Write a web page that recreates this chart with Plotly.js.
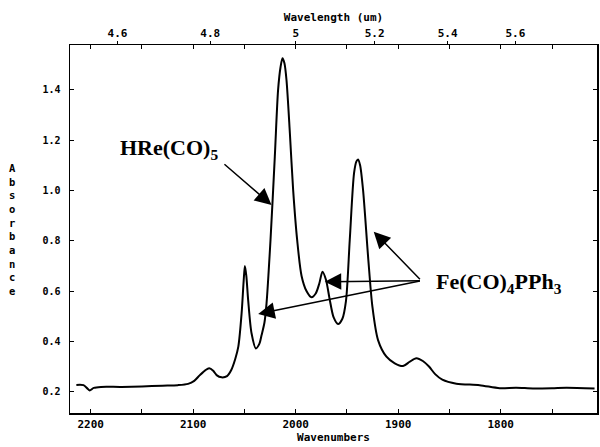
<!DOCTYPE html>
<html>
<head>
<meta charset="utf-8">
<script src="https://cdn.plot.ly/plotly-3.0.1.min.js"></script>
<style>html,body{margin:0;padding:0;background:#fff;}#chart{width:600px;height:447px;}</style>
</head>
<body>
<div id="chart"></div>
<script>
// Spectrum
const wavenumber = [2214, 2207, 2203, 2201, 2197, 2190, 2170, 2150, 2130, 2115, 2105, 2099, 2093.5, 2088, 2084.4, 2080.5, 2077.2, 2072.3, 2067, 2063, 2059, 2056, 2052.8, 2050.8, 2049.6, 2048.2, 2046.4, 2043.1, 2038.9, 2035.5, 2033.3, 2030.5, 2028.5, 2024.6, 2020.4, 2017.2, 2014.8, 2012.9, 2011, 2009, 2005.7, 2002.5, 1998.6, 1994.3, 1989.5, 1984.6, 1980.5, 1977, 1973.9, 1970.5, 1967, 1963, 1958.7, 1954.5, 1951, 1947.3, 1943.1, 1940.8, 1939.2, 1937.2, 1934.3, 1929.4, 1925.2, 1919.7, 1911.5, 1903.4, 1895.3, 1888.8, 1882.3, 1876, 1870, 1864, 1857, 1843.3, 1820.6, 1801, 1785, 1768.6, 1750, 1736, 1708.5];
const absorbance = [0.227, 0.226, 0.212, 0.205, 0.215, 0.219, 0.219, 0.221, 0.224, 0.226, 0.231, 0.243, 0.266, 0.286, 0.293, 0.283, 0.266, 0.257, 0.262, 0.285, 0.33, 0.379, 0.511, 0.64, 0.699, 0.66, 0.564, 0.432, 0.372, 0.39, 0.425, 0.475, 0.55, 0.803, 1.134, 1.399, 1.49, 1.525, 1.505, 1.438, 1.227, 1.001, 0.803, 0.66, 0.6, 0.575, 0.59, 0.63, 0.677, 0.645, 0.57, 0.495, 0.469, 0.49, 0.56, 0.803, 1.068, 1.115, 1.123, 1.1, 1.001, 0.736, 0.538, 0.405, 0.339, 0.313, 0.302, 0.319, 0.333, 0.322, 0.3, 0.27, 0.248, 0.232, 0.226, 0.214, 0.216, 0.213, 0.214, 0.216, 0.213];

const bottomTicks = [2200, 2100, 2000, 1900, 1800];
const bottomMinorTicks = [2150, 2050, 1950, 1850, 1750];
const wavelengthTicks = [4.6, 4.8, 5, 5.2, 5.4, 5.6];
const wavelengthLabels = ['4.6', '4.8', '5', '5.2', '5.4', '5.6'];
const yTicks = [0.2, 0.4, 0.6, 0.8, 1.0, 1.2, 1.4];

const xRange = [2220.2, 1706.1];
const yRange = [0.1154, 1.5775];

const axisFont = {family: 'DejaVu Sans Mono', size: 11, color: '#000', weight: 'bold'};
const yTickFont = {family: 'DejaVu Sans Mono', size: 10, color: '#000', weight: 'bold'};
const labelFont = {family: 'Liberation Serif', size: 22, color: '#000', weight: 'bold'};

const trace = {
  x: wavenumber, y: absorbance, type: 'scatter', mode: 'lines',
  line: {color: '#000', width: 2, shape: 'spline', smoothing: 0.8},
  xaxis: 'x', yaxis: 'y', hoverinfo: 'skip'
};
const dummyTop = {
  x: [xRange[0]], y: [absorbance[0]], xaxis: 'x2', yaxis: 'y', mode: 'markers',
  marker: {opacity: 0}, hoverinfo: 'skip', showlegend: false
};

const arrowBase = {showarrow: true, arrowhead: 2, arrowsize: 2.2, arrowwidth: 1.5, arrowcolor: '#000',
  axref: 'x', ayref: 'y', xref: 'x', yref: 'y', text: '', standoff: 0};
const feTail = [1877.4, 0.641];

const layout = {
  width: 600, height: 447,
  margin: {l: 70, r: 3, t: 45, b: 34, pad: 0},
  paper_bgcolor: '#fff', plot_bgcolor: '#fff',
  showlegend: false,
  xaxis: {
    range: xRange, tickmode: 'array', tickvals: bottomTicks,
    ticks: 'inside', ticklen: 4, tickwidth: 1, tickcolor: '#000',
    minor: {tickmode: 'array', tickvals: bottomMinorTicks, ticks: 'inside', ticklen: 4, tickwidth: 1, tickcolor: '#000', showgrid: false},
    showline: true, linecolor: '#000', linewidth: 1.5, mirror: 'ticks',
    showgrid: false, zeroline: false, tickfont: axisFont,
    title: {text: 'Wavenumbers', font: axisFont, standoff: 2}
  },
  xaxis2: {
    overlaying: 'x', side: 'top', range: xRange,
    tickvals: wavelengthTicks.map(l => 10000 / l), ticktext: wavelengthLabels,
    ticks: 'outside', ticklen: 3, tickwidth: 1, tickcolor: '#000',
    showline: false, showgrid: false, zeroline: false, tickfont: axisFont,
    title: {text: 'Wavelength (um)', font: axisFont, standoff: 2}
  },
  yaxis: {
    range: yRange, tickvals: yTicks, tickformat: '.1f',
    ticks: 'inside', ticklen: 4, tickwidth: 1, tickcolor: '#000',
    showline: true, linecolor: '#000', linewidth: 1.5, mirror: 'ticks',
    showgrid: false, zeroline: false, tickfont: yTickFont, ticklabelstandoff: 6
  },
  annotations: [
    {xref: 'paper', yref: 'paper', x: -0.11, y: 0.5, xanchor: 'center', yanchor: 'middle',
     showarrow: false, align: 'center',
     text: 'A<br>b<br>s<br>o<br>r<br>b<br>a<br>n<br>c<br>e',
     font: {family: 'DejaVu Sans Mono', size: 10.5, color: '#000', weight: 'bold'}},
    {xref: 'x', yref: 'y', x: 2123.7, y: 1.164, showarrow: false,
     text: 'HRe(CO)<sub>5</sub>', font: labelFont},
    {xref: 'x', yref: 'y', x: 1802, y: 0.632, showarrow: false,
     text: 'Fe(CO)<sub>4</sub>PPh<sub>3</sub>', font: labelFont},
    Object.assign({}, arrowBase, {x: 2023.6, y: 0.942, ax: 2071, ay: 1.109}),
    Object.assign({}, arrowBase, {x: 1923.9, y: 0.836, ax: feTail[0], ay: feTail[1]}),
    Object.assign({}, arrowBase, {x: 1971.7, y: 0.637, ax: feTail[0], ay: feTail[1]}),
    Object.assign({}, arrowBase, {x: 2036.6, y: 0.509, ax: feTail[0], ay: feTail[1]})
  ]
};

Plotly.newPlot('chart', [trace, dummyTop], layout, {displayModeBar: false, staticPlot: true});
</script>
</body>
</html>
